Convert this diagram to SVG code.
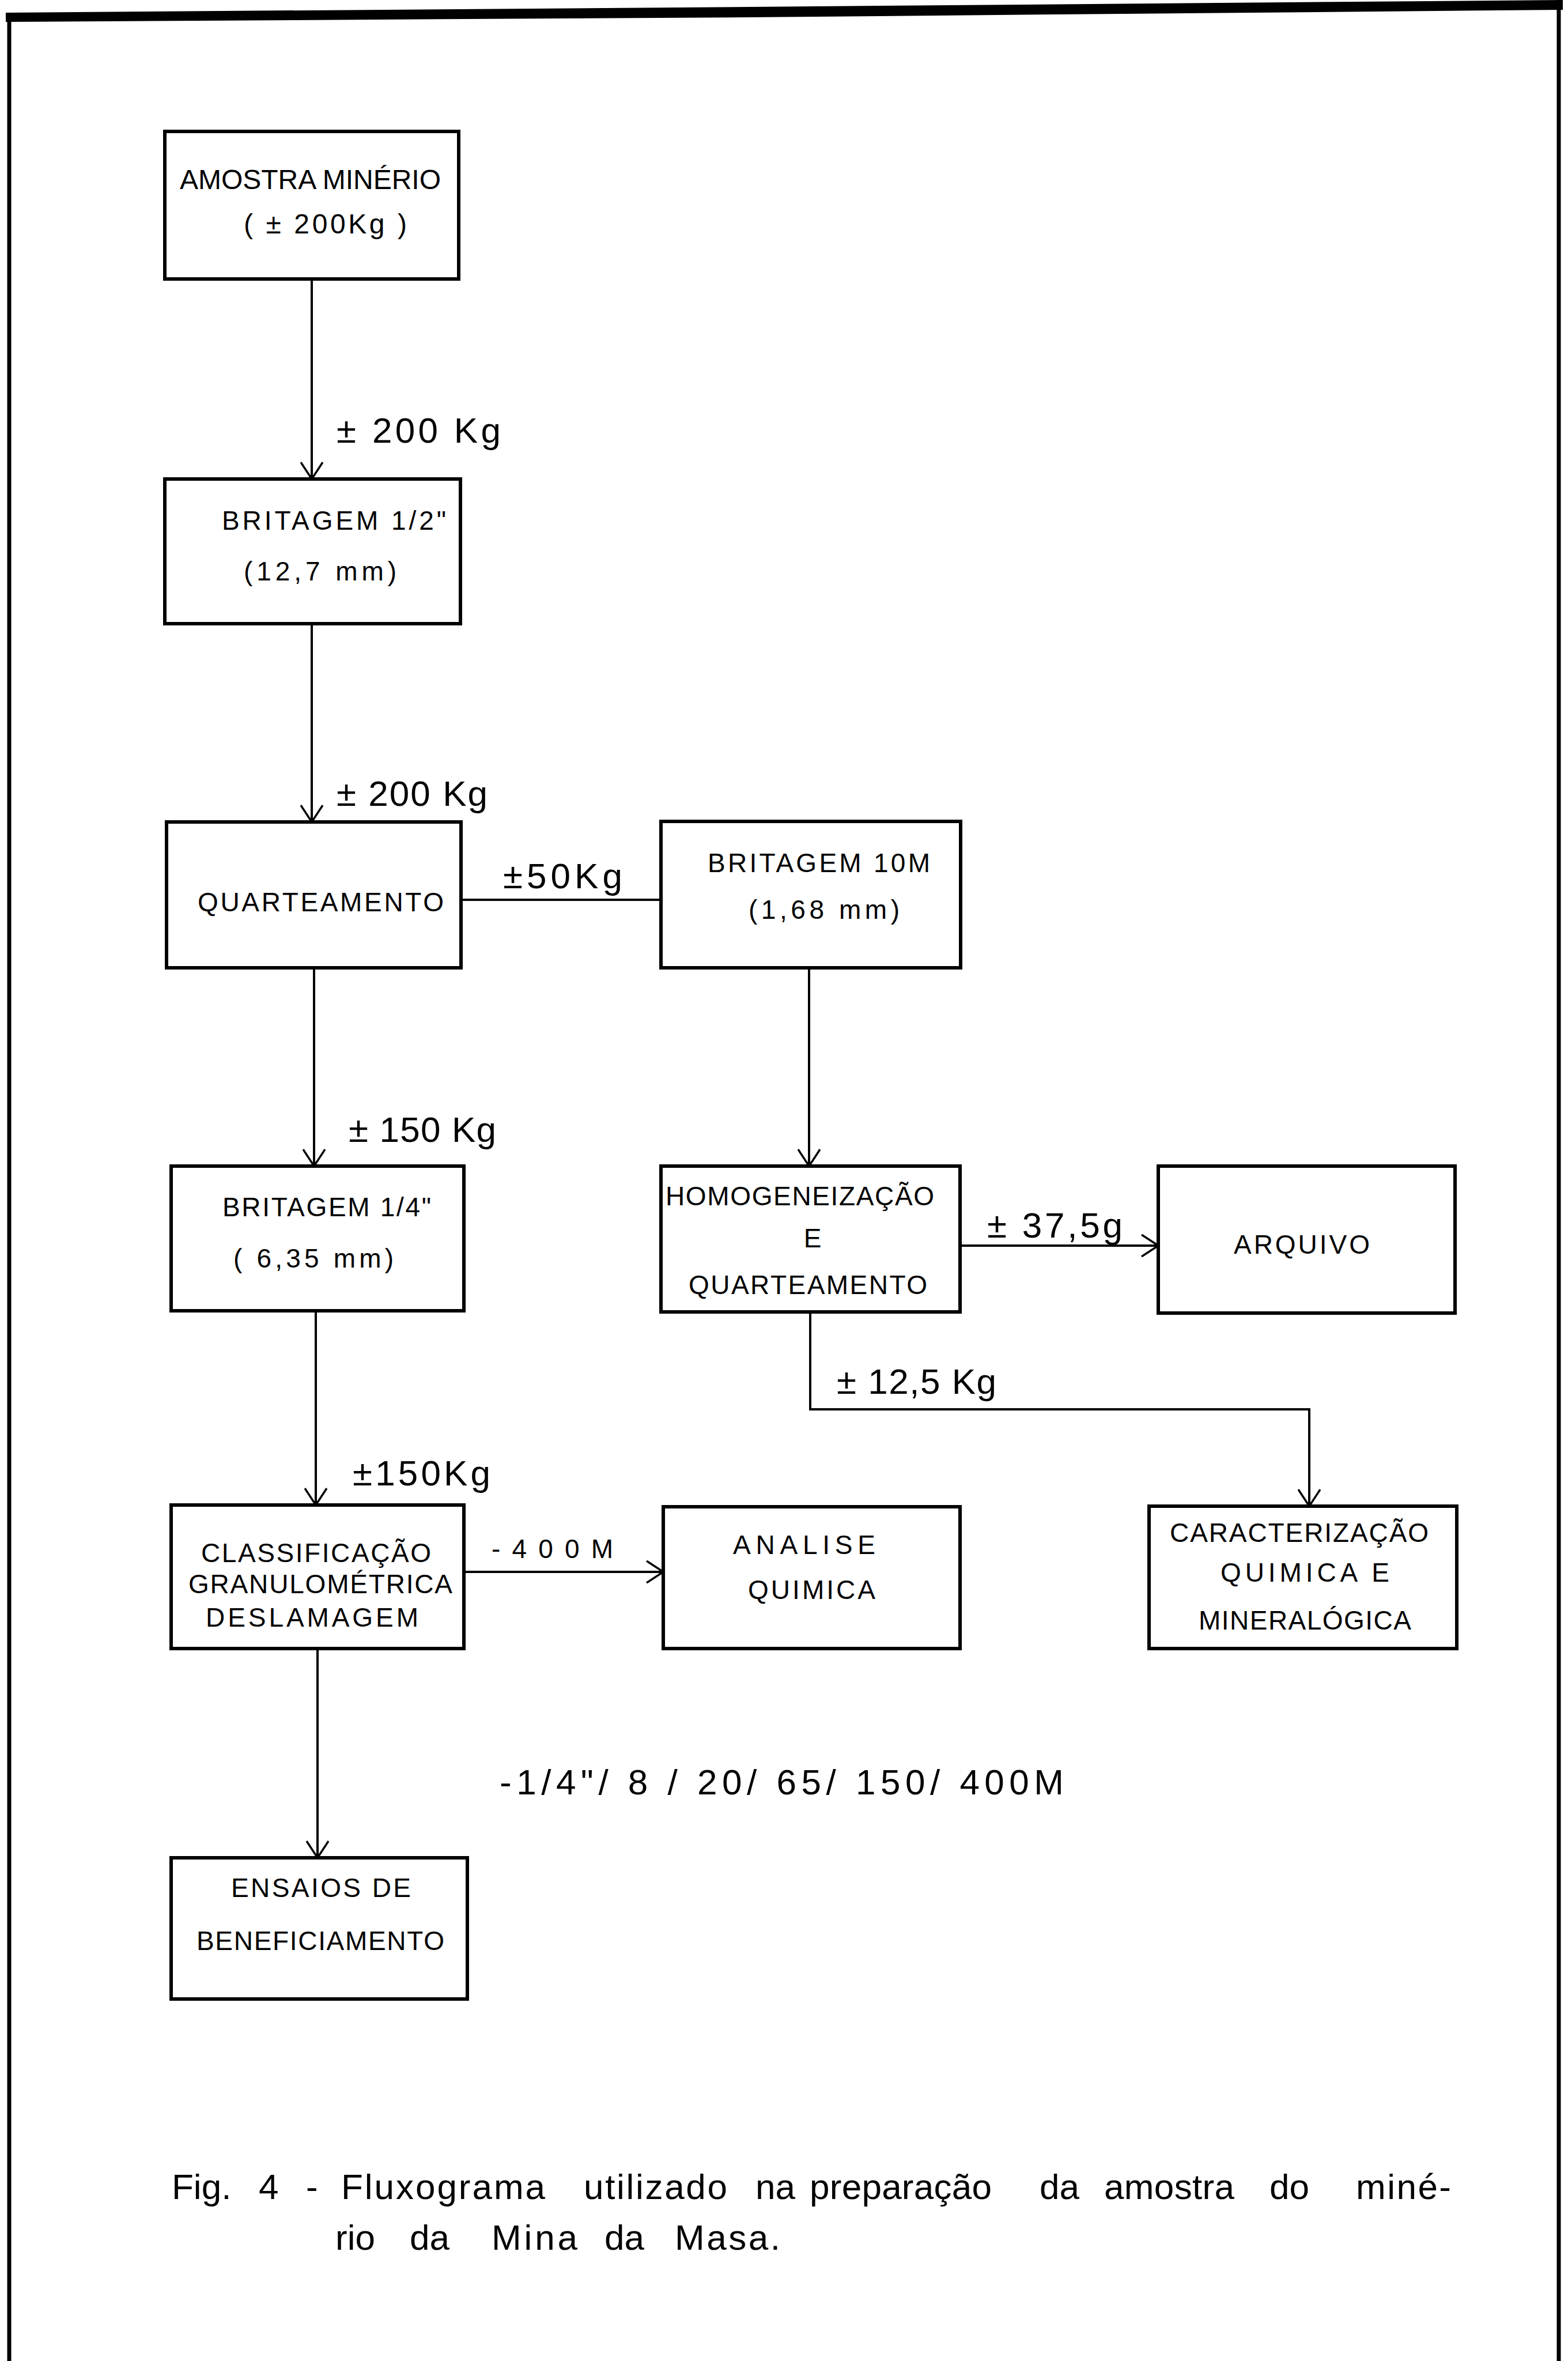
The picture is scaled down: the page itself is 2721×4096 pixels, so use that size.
<svg xmlns="http://www.w3.org/2000/svg" width="2721" height="4096" viewBox="0 0 2721 4096">
<style>
.box{fill:none;stroke:#000;stroke-width:6}
.c{fill:none;stroke:#000;stroke-width:4}
.t{font-family:"Liberation Sans Narrow","Liberation Sans",Arial,sans-serif;font-size:46px;fill:#000}
.q{font-family:"Liberation Sans Narrow","Liberation Sans",Arial,sans-serif;font-size:62px;fill:#000}
.cap{font-family:"Liberation Sans Narrow","Liberation Sans",Arial,sans-serif;font-size:62px;fill:#000}
</style>
<defs>
<marker id="ah" markerUnits="userSpaceOnUse" markerWidth="40" markerHeight="40" viewBox="0 0 40 40" refX="37" refY="20" orient="auto">
<path d="M8,1 L37,20 L8,39" fill="none" stroke="#000" stroke-width="3.5"/>
</marker>
</defs>
<rect width="2721" height="4096" fill="#fff"/>
<g id="frame">
<polygon points="10,22 1300,12 2712,0 2712,17 1300,30 10,38" fill="#000"/>
<line x1="16" y1="24" x2="16" y2="4096" stroke="#000" stroke-width="7"/>
<line x1="2705" y1="0" x2="2705" y2="4096" stroke="#000" stroke-width="7"/>
</g>
<g id="connectors">
<line class="c" x1="541" y1="484" x2="541" y2="831" marker-end="url(#ah)"/>
<line class="c" x1="541" y1="1082" x2="541" y2="1426" marker-end="url(#ah)"/>
<line class="c" x1="800" y1="1561" x2="1147" y2="1561"/>
<line class="c" x1="545" y1="1679" x2="545" y2="2023" marker-end="url(#ah)"/>
<line class="c" x1="1404" y1="1679" x2="1404" y2="2023" marker-end="url(#ah)"/>
<line class="c" x1="1666" y1="2161" x2="2010" y2="2161" marker-end="url(#ah)"/>
<polyline class="c" points="1406,2276 1406,2445 2272,2445 2272,2613" marker-end="url(#ah)"/>
<line class="c" x1="548" y1="2274" x2="548" y2="2611" marker-end="url(#ah)"/>
<line class="c" x1="805" y1="2727" x2="1151" y2="2727" marker-end="url(#ah)"/>
<line class="c" x1="551" y1="2860" x2="551" y2="3223" marker-end="url(#ah)"/>
</g>
<g id="connector-labels">
<text class="q" x="584" y="768" textLength="285">± 200  Kg</text>
<text class="q" x="584" y="1398" textLength="262">± 200 Kg</text>
<text class="q" x="873" y="1541" textLength="207">±50Kg</text>
<text class="q" x="605" y="1981" textLength="256">± 150 Kg</text>
<text class="q" x="1713" y="2147" textLength="235">± 37,5g</text>
<text class="q" x="1452" y="2418" textLength="277">± 12,5 Kg</text>
<text class="q" x="612" y="2577" textLength="239">±150Kg</text>
<text class="t" x="853" y="2703" textLength="211">-400M</text>
<text class="q" x="867" y="3113" textLength="979">-1/4"/ 8 / 20/ 65/ 150/ 400M</text>
</g>
<g id="n1">
<rect class="box" x="286" y="228" width="510" height="256"/>
<text class="t" x="312" y="328" textLength="453" style="font-size:48px">AMOSTRA MINÉRIO</text>
<text class="t" x="423" y="405" textLength="283" style="font-size:48px">( ± 200Kg )</text>
</g>
<g id="n2">
<rect class="box" x="286" y="831" width="513" height="251"/>
<text class="t" x="385" y="919" textLength="389">BRITAGEM 1/2"</text>
<text class="t" x="423" y="1007" textLength="265">(12,7 mm)</text>
</g>
<g id="n3">
<rect class="box" x="289" y="1426" width="511" height="253"/>
<text class="t" x="343" y="1581" textLength="427">QUARTEAMENTO</text>
</g>
<g id="n4">
<rect class="box" x="1147" y="1425" width="520" height="254"/>
<text class="t" x="1228" y="1513" textLength="386">BRITAGEM 10M</text>
<text class="t" x="1299" y="1594" textLength="262">(1,68 mm)</text>
</g>
<g id="n5">
<rect class="box" x="297" y="2023" width="508" height="251"/>
<text class="t" x="386" y="2110" textLength="362">BRITAGEM 1/4"</text>
<text class="t" x="405" y="2199" textLength="278">( 6,35 mm)</text>
</g>
<g id="n6">
<rect class="box" x="1147" y="2023" width="519" height="253"/>
<text class="t" x="1155" y="2091" textLength="466">HOMOGENEIZAÇÃO</text>
<text class="t" x="1410" y="2164" text-anchor="middle">E</text>
<text class="t" x="1195" y="2245" textLength="414">QUARTEAMENTO</text>
</g>
<g id="n7">
<rect class="box" x="2010" y="2023" width="515" height="255"/>
<text class="t" x="2141" y="2175" textLength="236">ARQUIVO</text>
</g>
<g id="n8">
<rect class="box" x="1994" y="2613" width="534" height="247"/>
<text class="t" x="2030" y="2675" textLength="449">CARACTERIZAÇÃO</text>
<text class="t" x="2118" y="2744" textLength="293">QUIMICA E</text>
<text class="t" x="2080" y="2827" textLength="369">MINERALÓGICA</text>
</g>
<g id="n9">
<rect class="box" x="297" y="2611" width="508" height="249"/>
<text class="t" x="349" y="2710" textLength="399">CLASSIFICAÇÃO</text>
<text class="t" x="327" y="2764" textLength="458">GRANULOMÉTRICA</text>
<text class="t" x="357" y="2822" textLength="369">DESLAMAGEM</text>
</g>
<g id="n10">
<rect class="box" x="1151" y="2614" width="515" height="246"/>
<text class="t" x="1272" y="2696" textLength="247">ANALISE</text>
<text class="t" x="1298" y="2774" textLength="221">QUIMICA</text>
</g>
<g id="n11">
<rect class="box" x="297" y="3223" width="514" height="245"/>
<text class="t" x="401" y="3291" textLength="312">ENSAIOS  DE</text>
<text class="t" x="341" y="3383" textLength="430">BENEFICIAMENTO</text>
</g>
<g id="caption">
<text class="cap" x="298" y="3815">Fig.</text>
<text class="cap" x="449" y="3815">4</text>
<text class="cap" x="531" y="3815">-</text>
<text class="cap" x="592" y="3815" textLength="354">Fluxograma</text>
<text class="cap" x="1013" y="3815" textLength="249">utilizado</text>
<text class="cap" x="1311" y="3815">na</text>
<text class="cap" x="1405" y="3815" textLength="316">preparação</text>
<text class="cap" x="1804" y="3815">da</text>
<text class="cap" x="1916" y="3815" textLength="226">amostra</text>
<text class="cap" x="2203" y="3815">do</text>
<text class="cap" x="2353" y="3815" textLength="165">miné-</text>
<text class="cap" x="582" y="3903">rio</text>
<text class="cap" x="711" y="3903">da</text>
<text class="cap" x="853" y="3903" textLength="149">Mina</text>
<text class="cap" x="1049" y="3903">da</text>
<text class="cap" x="1171" y="3903" textLength="183">Masa.</text>
</g>
</svg>
